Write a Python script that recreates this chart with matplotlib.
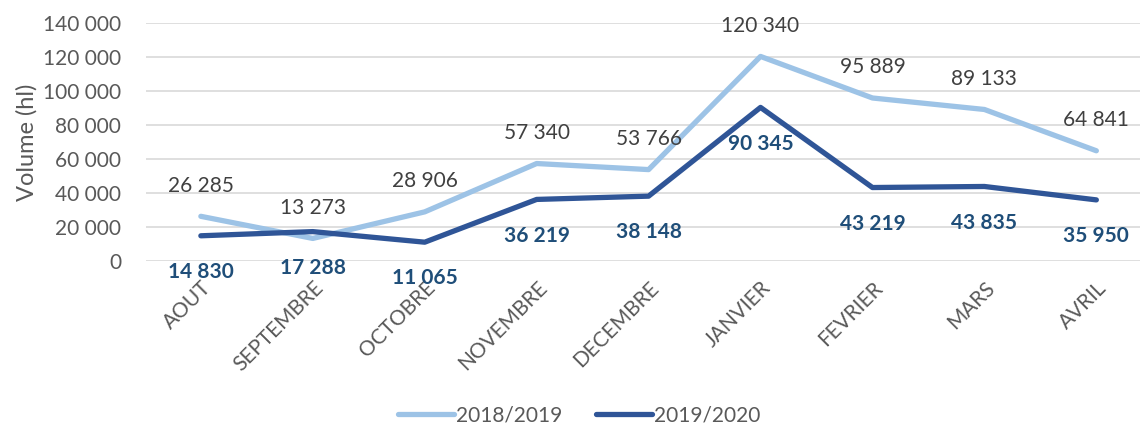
import matplotlib.pyplot as plt
from matplotlib.ticker import FuncFormatter

plt.rcParams['font.family'] = ['Lato', 'DejaVu Sans']

# Months
months = ['AOUT', 'SEPTEMBRE', 'OCTOBRE', 'NOVEMBRE', 'DECEMBRE',
          'JANVIER', 'FEVRIER', 'MARS', 'AVRIL']

# Volumes (hl)
vol_2018_2019 = [26285, 13273, 28906, 57340, 53766, 120340, 95889, 89133, 64841]
vol_2019_2020 = [14830, 17288, 11065, 36219, 38148, 90345, 43219, 43835, 35950]

light = '#9DC3E6'
dark = '#2F5597'
fs = 15


def fmt(v, pos=None):
    return f'{int(v):,}'.replace(',', ' ')


fig = plt.figure(figsize=(11.4, 4.29), dpi=100)
ax = fig.add_axes([146 / 1140, 168 / 429, 994 / 1140, 238 / 429])

x = list(range(len(months)))
ax.plot(x, vol_2018_2019, color=light, lw=3.8, solid_capstyle='round', label='2018/2019', zorder=3)
ax.plot(x, vol_2019_2020, color=dark, lw=3.8, solid_capstyle='round', label='2019/2020', zorder=3)

for i, v in enumerate(vol_2018_2019):
    ax.annotate(fmt(v), (i, v), xytext=(0, 22), textcoords='offset points',
                ha='center', va='center', fontsize=fs, color='#404040')
for i, v in enumerate(vol_2019_2020):
    ax.annotate(fmt(v), (i, v), xytext=(0, -26), textcoords='offset points',
                ha='center', va='center', fontsize=fs, color='#1F4E79', fontweight='bold')

ax.set_xlim(-0.49, 8.39)
ax.set_ylim(0, 140000)
ax.set_yticks(range(0, 140001, 20000))
ax.yaxis.set_major_formatter(FuncFormatter(fmt))
ax.set_xticks(x)
ax.set_xticklabels(months, rotation=45, ha='right', rotation_mode='anchor')
ax.tick_params(axis='both', length=0, labelsize=fs, colors='#595959')
ax.tick_params(axis='y', pad=18)
ax.tick_params(axis='x', pad=12)
ax.set_ylabel('Volume (hl)', fontsize=17, color='#595959', labelpad=4)
ax.grid(True, axis='y', color='#D9D9D9', lw=1.2)
ax.set_axisbelow(True)
for s in ax.spines.values():
    s.set_visible(False)

fig.legend(loc='lower center', bbox_to_anchor=(0.508, -0.035), ncol=2, frameon=False,
           fontsize=fs, labelcolor='#595959', handlelength=2.7, columnspacing=1.6,
           handletextpad=0.1)

fig.savefig('out.png', dpi=100)
